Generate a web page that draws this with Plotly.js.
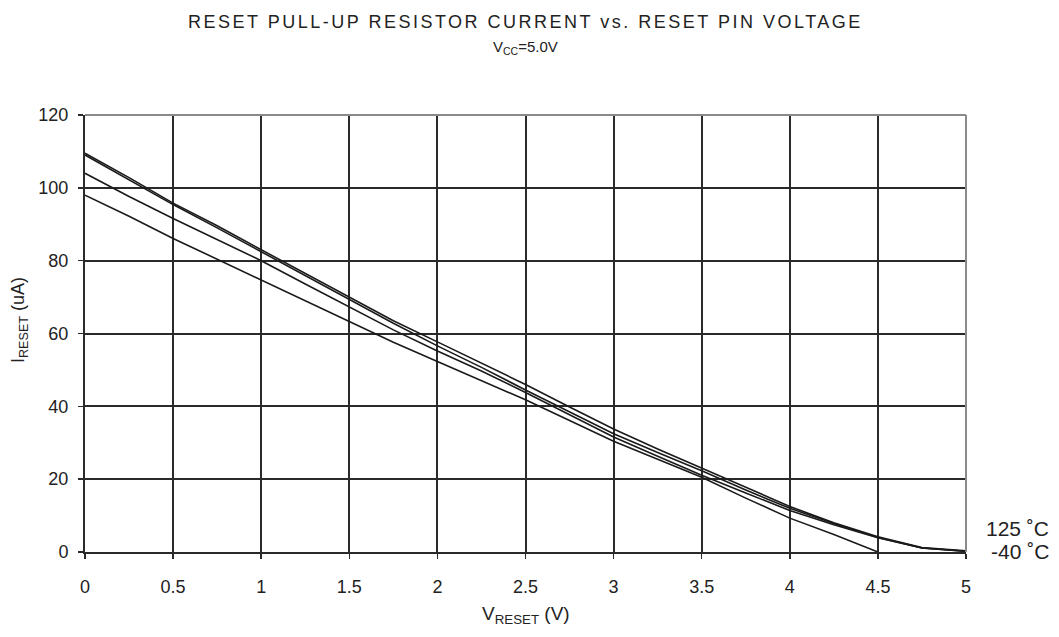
<!DOCTYPE html>
<html>
<head>
<meta charset="utf-8">
<script src="https://cdn.plot.ly/plotly-3.0.1.min.js"></script>
<style>html,body{margin:0;padding:0;background:#fff;}#chart{width:1059px;height:637px;}</style>
</head>
<body>
<div id="chart"></div>
<script>
// Reset pin voltage (V)
const vReset = [0, 0.25, 0.5, 0.75, 1, 1.25, 1.5, 1.75, 2, 2.25, 2.5, 2.75, 3, 3.25, 3.5, 3.75, 4, 4.25, 4.5, 4.75, 5];
// Pull-up current (uA) per curve
const curveA = [109.5, 102.8, 95.8, 89.6, 83.0, 76.5, 70.0, 63.5, 57.7, 51.8, 46.0, 39.8, 33.8, 28.3, 23.0, 17.6, 12.5, 8.0, 4.2, 1.2, 0.3];
const curveB = [109.0, 102.3, 95.4, 89.0, 82.4, 75.9, 69.3, 62.8, 56.6, 50.7, 44.5, 38.5, 32.5, 27.3, 22.3, 17.0, 12.0, 7.8, 4.0, 1.1, 0.2];
const curveC = [104.0, 97.6, 91.6, 85.7, 80.0, 73.6, 67.3, 61.0, 55.2, 49.7, 43.8, 37.6, 31.6, 26.3, 21.1, 16.2, 11.4, 7.5, 3.9, 1.1, 0.2];
const curveD = [98.0, 92.2, 86.1, 80.4, 74.7, 69.0, 63.3, 57.6, 52.3, 47.0, 41.8, 36.1, 30.4, 25.5, 20.5, 14.8, 9.3, 4.8, 0];
const seriesNames = ["curve A", "curve B", "curve C", "curve D"];
const xTicks = [0, 0.5, 1, 1.5, 2, 2.5, 3, 3.5, 4, 4.5, 5];
const xTickText = ["0", "0.5", "1", "1.5", "2", "2.5", "3", "3.5", "4", "4.5", "5"];
const yTicks = [0, 20, 40, 60, 80, 100, 120];
const tempLabels = ["125 ˚C", "-40 ˚C"];
const titleText = "RESET PULL-UP RESISTOR CURRENT vs. RESET PIN VOLTAGE";
const subtitleText = "V<sub>CC</sub>=5.0V";
const xTitle = "V<sub>RESET</sub> (V)";
const yTitle = "I<sub>RESET</sub> (uA)";

const allY = [curveA, curveB, curveC, curveD];
const traces = allY.map((ys, i) => ({
  x: vReset.slice(0, ys.length),
  y: ys,
  name: seriesNames[i],
  type: 'scatter',
  mode: 'lines',
  line: {color: '#1a1a1a', width: 1.6},
  hoverinfo: 'skip'
}));

const fontFam = 'Liberation Sans, Arial, sans-serif';
const txt = '#222';
const layout = {
  width: 1059, height: 637,
  margin: {l: 85, r: 93, t: 115, b: 85},
  paper_bgcolor: '#fff', plot_bgcolor: '#fff',
  showlegend: false,
  font: {family: fontFam, color: txt, size: 17},
  xaxis: {
    range: [0, 5], tickvals: xTicks, ticktext: xTickText,
    showgrid: true, gridcolor: '#2a2a2a', gridwidth: 2,
    zeroline: false, showline: true, linecolor: '#2a2a2a', linewidth: 2,
    ticks: 'outside', ticklen: 5, tickcolor: '#2a2a2a', tickwidth: 1.5,
    ticklabelstandoff: 12,
    tickfont: {size: 18, family: fontFam, color: txt}
  },
  yaxis: {
    range: [0, 120], tickvals: yTicks,
    showgrid: true, gridcolor: '#2a2a2a', gridwidth: 2,
    zeroline: false, showline: true, linecolor: '#2a2a2a', linewidth: 2,
    ticks: 'outside', ticklen: 5, tickcolor: '#2a2a2a', tickwidth: 1.5,
    ticklabelstandoff: 6,
    tickfont: {size: 18, family: fontFam, color: txt}
  },
  shapes: [
    {type: 'line', xref: 'paper', yref: 'paper', x0: 0, x1: 1, y0: 1, y1: 1, line: {color: '#8a8a8a', width: 2}},
    {type: 'line', xref: 'paper', yref: 'paper', x0: 1, x1: 1, y0: 0, y1: 1, line: {color: '#8a8a8a', width: 2}}
  ],
  annotations: [
    {text: '<span style="letter-spacing:2.5px">' + titleText + '</span>', xref: 'paper', yref: 'paper', x: 0.5, y: (552 - 22) / 437, xanchor: 'center', yanchor: 'middle', showarrow: false, font: {size: 18, family: fontFam, color: txt}},
    {text: subtitleText, xref: 'paper', yref: 'paper', x: 0.5, y: (552 - 48) / 437, xanchor: 'center', yanchor: 'middle', showarrow: false, font: {size: 15, family: fontFam, color: txt}},
    {text: xTitle, xref: 'paper', yref: 'paper', x: 0.5, y: (552 - 615) / 437, xanchor: 'center', yanchor: 'middle', showarrow: false, font: {size: 19, family: fontFam, color: txt}},
    {text: yTitle, xref: 'paper', yref: 'paper', x: (19 - 85) / 881, y: (552 - 320) / 437, xanchor: 'center', yanchor: 'middle', textangle: -90, showarrow: false, font: {size: 18, family: fontFam, color: txt}},
    {text: tempLabels[0], xref: 'paper', yref: 'paper', x: (1051 - 85) / 881, y: (552 - 528) / 437, xanchor: 'right', yanchor: 'middle', showarrow: false, font: {size: 21, family: fontFam, color: txt}},
    {text: tempLabels[1], xref: 'paper', yref: 'paper', x: (1051 - 85) / 881, y: (552 - 551) / 437, xanchor: 'right', yanchor: 'middle', showarrow: false, font: {size: 21, family: fontFam, color: txt}}
  ]
};

Plotly.newPlot('chart', traces, layout, {staticPlot: true, displayModeBar: false});
</script>
</body>
</html>
